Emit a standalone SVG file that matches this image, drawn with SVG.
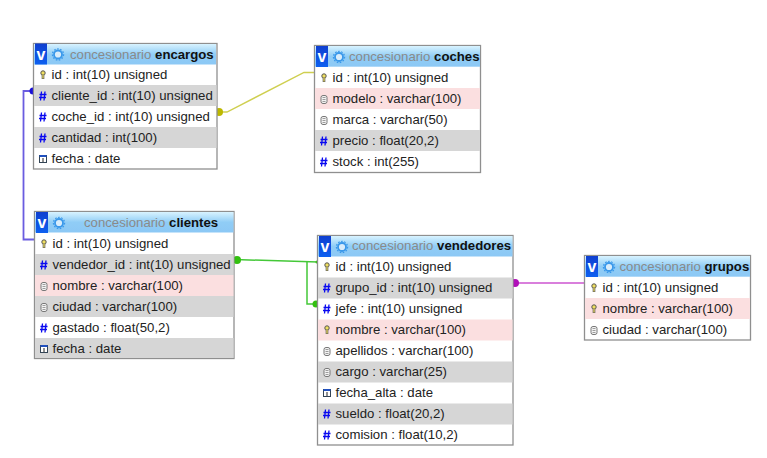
<svg xmlns="http://www.w3.org/2000/svg" xmlns:xlink="http://www.w3.org/1999/xlink" width="767" height="458" viewBox="0 0 767 458">
<style>
text{font-family:"Liberation Sans",Arial,sans-serif;font-size:13.2px;fill:#222}
.box{fill:#fff;stroke:#8f8f8f;stroke-width:1.3}
.head{fill:url(#hg)}
.g{fill:#d6d6d6}.p{fill:#fbdfe0}
.ti{fill:#8a8a8a}.tb{fill:#111;font-weight:bold}
.v{fill:url(#vg)}.vt{fill:#fff;font-weight:bold;font-size:16px}
.c{fill:none}
</style>
<defs>
<linearGradient id="hg" x1="0" y1="0" x2="0" y2="1"><stop offset="0" stop-color="#d8f3ff"/><stop offset=".5" stop-color="#90cdf6"/><stop offset="1" stop-color="#8cc8f5"/></linearGradient>
<linearGradient id="vg" x1="0" y1="0" x2="0" y2="1"><stop offset="0" stop-color="#0f3fd0"/><stop offset="1" stop-color="#0d60f0"/></linearGradient>
<g id="hdr"><rect class="v" x="0" y="0" width="12" height="21"/><text class="vt" x="1.500" y="16">v</text><circle cx="23" cy="11" r="4" fill="#d8ecfb" stroke="#3a98ea" stroke-width="1.800"/><circle cx="23" cy="11" r="5.600" fill="none" stroke="#3a98ea" stroke-width="1.200" stroke-dasharray="1.600 1.500"/></g>
<g id="key"><circle cx="0" cy="-2" r="2.200" fill="#f0e060" stroke="#555" stroke-width="1"/><path d="M0 0V4" stroke="#555" stroke-width="2.600"/><path d="M0 0V3.500" stroke="#f0e060" stroke-width="1.200"/></g>
<g id="num" stroke="#0808f0" stroke-width="1.300" fill="none"><path d="M-1.500 -4.500L-2.500 4.500M2 -4.500L1 4.500M-3.500 -1.500H3.500M-4 1.500H3"/></g>
<g id="str" fill="#f4f4f4" stroke="#777" stroke-width="1"><rect x="-3" y="-3.500" width="6" height="8" rx="2"/><path d="M-1.500 -1.500H1.500M-1.500 .5H1.500M-1.500 2.500H1.500" stroke-width=".7"/></g>
<g id="dat"><rect x="-3.500" y="-3.500" width="7" height="7" fill="#fff" stroke="#345" stroke-width="1"/><rect x="-3.500" y="-4" width="7" height="2" fill="#2050c0"/><path d="M0 -1V3" stroke="#222" stroke-width="1"/></g>
</defs>

<g id="connectors">
<path class="c" d="M33 91H23.500V239.500H35" stroke="#6a5ce0" stroke-width="1.800"/>
<circle cx="33" cy="91" r="3.500" fill="#1a10d8"/>
<path class="c" d="M218 112H227L304 72.500H315" stroke="#cfcf50" stroke-width="1.400"/>
<circle cx="219" cy="112" r="4" fill="#bdb800"/>
<path class="c" d="M235 259.500L318 262" stroke="#44c838" stroke-width="1.500"/>
<path class="c" d="M307 261.500V304H318" stroke="#44c838" stroke-width="1.500"/>
<circle cx="237" cy="260" r="4" fill="#33c010"/>
<circle cx="316" cy="304" r="3.500" fill="#33c010"/>
<circle cx="317" cy="262" r="1.500" fill="#33c010"/>
<path class="c" d="M514 283H585" stroke="#cc55d0" stroke-width="1.500"/>
<circle cx="515" cy="283" r="4" fill="#b010b8"/>
</g>

<g id="encargos">
<rect class="box" x="33.500" y="43.500" width="183.500" height="125.500"/>
<rect class="head" x="34" y="44" width="182" height="20.500"/>
<rect class="g" x="34" y="85" width="182.500" height="21"/><rect class="g" x="34" y="127" width="182.500" height="21"/>
<use href="#hdr" x="35" y="43.500"/>
<text x="70" y="58.500"><tspan class="ti">concesionario </tspan><tspan class="tb">encargos</tspan></text>
<use href="#key" x="43" y="75"/><text x="51.500" y="79">id : int(10) unsigned</text>
<use href="#num" x="43" y="96"/><text x="51.500" y="100">cliente_id : int(10) unsigned</text>
<use href="#num" x="43" y="117"/><text x="51.500" y="121">coche_id : int(10) unsigned</text>
<use href="#num" x="43" y="138"/><text x="51.500" y="142">cantidad : int(100)</text>
<use href="#dat" x="43" y="159"/><text x="51.500" y="163">fecha : date</text>
</g>

<g id="coches">
<rect class="box" x="314.500" y="45.500" width="166" height="127"/>
<rect class="head" x="315" y="46" width="165" height="20.700"/>
<rect class="p" x="315" y="88" width="165" height="21"/><rect class="g" x="315" y="130" width="165" height="21"/>
<use href="#hdr" x="316" y="46"/>
<text x="349" y="61"><tspan class="ti">concesionario </tspan><tspan class="tb">coches</tspan></text>
<use href="#key" x="324" y="78"/><text x="332.500" y="82">id : int(10) unsigned</text>
<use href="#str" x="324" y="99"/><text x="332.500" y="103">modelo : varchar(100)</text>
<use href="#str" x="324" y="120"/><text x="332.500" y="124">marca : varchar(50)</text>
<use href="#num" x="324" y="141"/><text x="332.500" y="145">precio : float(20,2)</text>
<use href="#num" x="324" y="162"/><text x="332.500" y="166">stock : int(255)</text>
</g>

<g id="clientes">
<rect class="box" x="34.500" y="211.500" width="199.500" height="147"/>
<rect class="head" x="35" y="212" width="198.500" height="20.500"/>
<rect class="g" x="35" y="254" width="198.500" height="21"/><rect class="p" x="35" y="275" width="198.500" height="21"/><rect class="g" x="35" y="296" width="198.500" height="21"/><rect class="g" x="35" y="338" width="198.500" height="20"/>
<use href="#hdr" x="36" y="212"/>
<text x="84" y="227"><tspan class="ti">concesionario </tspan><tspan class="tb">clientes</tspan></text>
<use href="#key" x="44" y="244"/><text x="52.500" y="248">id : int(10) unsigned</text>
<use href="#num" x="44" y="265"/><text x="52.500" y="269">vendedor_id : int(10) unsigned</text>
<use href="#str" x="44" y="286"/><text x="52.500" y="290">nombre : varchar(100)</text>
<use href="#str" x="44" y="307"/><text x="52.500" y="311">ciudad : varchar(100)</text>
<use href="#num" x="44" y="328"/><text x="52.500" y="332">gastado : float(50,2)</text>
<use href="#dat" x="44" y="349"/><text x="52.500" y="353">fecha : date</text>
</g>

<g id="vendedores">
<rect class="box" x="317.500" y="235.500" width="195.500" height="209.500"/>
<rect class="head" x="318" y="236" width="194.500" height="20.500"/>
<rect class="g" x="318" y="277.500" width="194.500" height="21"/><rect class="p" x="318" y="319.500" width="194.500" height="21"/><rect class="g" x="318" y="361.500" width="194.500" height="21"/><rect class="g" x="318" y="403.500" width="194.500" height="21"/>
<use href="#hdr" x="319" y="236"/>
<text x="352" y="250"><tspan class="ti">concesionario </tspan><tspan class="tb">vendedores</tspan></text>
<use href="#key" x="327" y="267"/><text x="335.500" y="271">id : int(10) unsigned</text>
<use href="#num" x="327" y="288"/><text x="335.500" y="292">grupo_id : int(10) unsigned</text>
<use href="#num" x="327" y="309"/><text x="335.500" y="313">jefe : int(10) unsigned</text>
<use href="#key" x="327" y="330"/><text x="335.500" y="334">nombre : varchar(100)</text>
<use href="#str" x="327" y="351"/><text x="335.500" y="355">apellidos : varchar(100)</text>
<use href="#str" x="327" y="372"/><text x="335.500" y="376">cargo : varchar(25)</text>
<use href="#dat" x="327" y="393"/><text x="335.500" y="397">fecha_alta : date</text>
<use href="#num" x="327" y="414"/><text x="335.500" y="418">sueldo : float(20,2)</text>
<use href="#num" x="327" y="435"/><text x="335.500" y="439">comision : float(10,2)</text>
</g>

<g id="grupos">
<rect class="box" x="584.500" y="255.500" width="166" height="84.500"/>
<rect class="head" x="585" y="256" width="165" height="20.700"/>
<rect class="p" x="585" y="298" width="165" height="21"/>
<use href="#hdr" x="586" y="256"/>
<text x="619.500" y="271"><tspan class="ti">concesionario </tspan><tspan class="tb">grupos</tspan></text>
<use href="#key" x="594" y="288"/><text x="602.500" y="292">id : int(10) unsigned</text>
<use href="#key" x="594" y="309"/><text x="602.500" y="313">nombre : varchar(100)</text>
<use href="#str" x="594" y="330"/><text x="602.500" y="334">ciudad : varchar(100)</text>
</g>
</svg>
